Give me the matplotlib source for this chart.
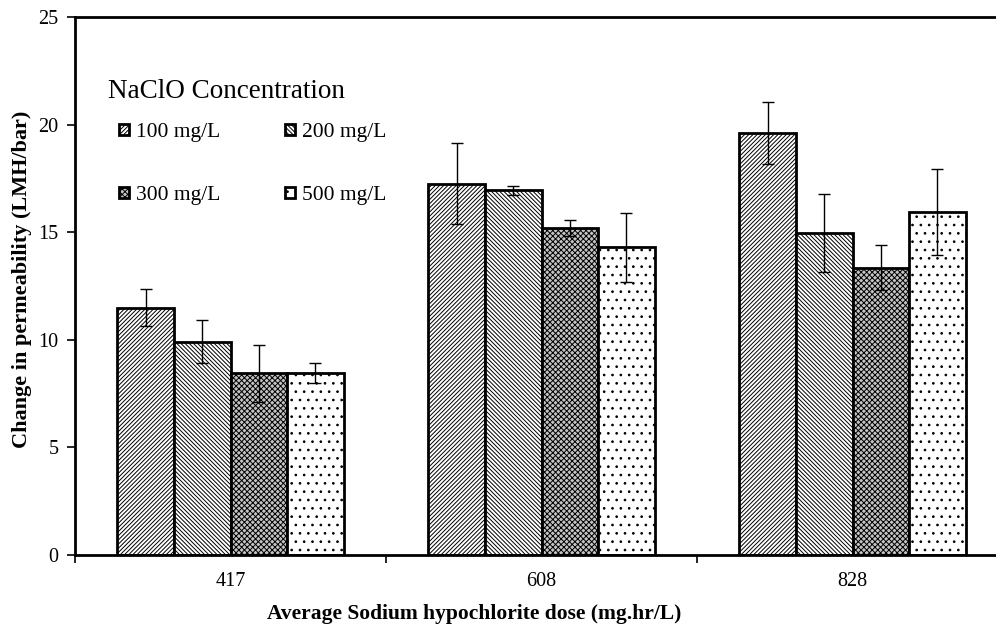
import matplotlib
matplotlib.use("Agg")
import matplotlib.pyplot as plt
import numpy as np

categories = ["417", "608", "828"]
series_labels = ["100 mg/L", "200 mg/L", "300 mg/L", "500 mg/L"]
values = {
    "100 mg/L": [11.5, 17.25, 19.6],
    "200 mg/L": [9.9, 16.95, 14.95],
    "300 mg/L": [8.45, 15.2, 13.35],
    "500 mg/L": [8.45, 14.3, 15.95],
}
errors = {
    "100 mg/L": [0.87, 1.88, 1.45],
    "200 mg/L": [1.0, 0.2, 1.82],
    "300 mg/L": [1.33, 0.38, 1.05],
    "500 mg/L": [0.48, 1.6, 2.0],
}

plt.rcParams['font.family'] = ['Liberation Serif', 'DejaVu Serif']
plt.rcParams['hatch.linewidth'] = 0.7

styles = {
    "100 mg/L": dict(facecolor="white", hatch="////////"),
    "200 mg/L": dict(facecolor="white", hatch="\\\\\\\\\\\\\\\\"),
    "300 mg/L": dict(facecolor="#c4c4c4", hatch="xxxxxx"),
    "500 mg/L": dict(facecolor="white", hatch=".."),
}

fig = plt.figure(figsize=(9.96, 6.30), dpi=100)
ax = fig.add_axes([75/996, 75/630, 1 - 75/996, 538/630])

x = np.arange(len(categories))
width = 0.182
handles = {}
for i, s in enumerate(series_labels):
    pos = x + (i - 1.5) * width
    b = ax.bar(pos, values[s], width, edgecolor="black", linewidth=2.0,
               label=s, zorder=2, **styles[s])
    ax.errorbar(pos, values[s], yerr=errors[s], fmt="none", ecolor="black",
                elinewidth=1.0, capsize=4.5, capthick=1.0, zorder=3)
    handles[s] = b

ax.set_ylim(0, 25)
ax.set_xlim(-0.5, 2.5 - 12/311)
ax.set_yticks([0, 5, 10, 15, 20, 25])
ax.set_xticks(x)
ax.set_xticklabels(categories)
ax.set_xticks([-0.5, 0.5, 1.5], minor=True)
ax.tick_params(axis="x", which="major", length=0, pad=12.5, labelsize=14.5)
ax.tick_params(axis="x", which="minor", length=6, width=1.2, direction="out")
ax.tick_params(axis="y", length=6, width=1.2, direction="out", labelsize=14.5, pad=6)
for sp in ["left", "bottom", "top"]:
    ax.spines[sp].set_linewidth(2.0)
ax.spines["right"].set_visible(False)

ax.set_ylabel("Change in permeability (LMH/bar)", fontsize=16, fontweight="bold")
ax.yaxis.set_label_coords(-(75 - 32) / 921, 0.513)
ax.set_xlabel("Average Sodium hypochlorite dose (mg.hr/L)", fontsize=15.5, fontweight="bold")
ax.xaxis.set_label_coords((474 - 75) / 921, -(604 - 555) / 538)

fig.text(108/996, 1 - 91/630, "NaClO Concentration", fontsize=19.5, va="center", ha="left")

order = ["100 mg/L", "300 mg/L", "200 mg/L", "500 mg/L"]
leg = ax.legend([handles[s] for s in order], order, ncol=2, frameon=False,
                loc="upper left", bbox_to_anchor=(119/996, 1 - 123/630),
                bbox_transform=fig.transFigure, borderpad=0, borderaxespad=0,
                fontsize=15.5, handlelength=0.45, handleheight=0.45,
                handletextpad=0.35, columnspacing=3.0, labelspacing=2.05)

fig.savefig("out.png", dpi=100)
